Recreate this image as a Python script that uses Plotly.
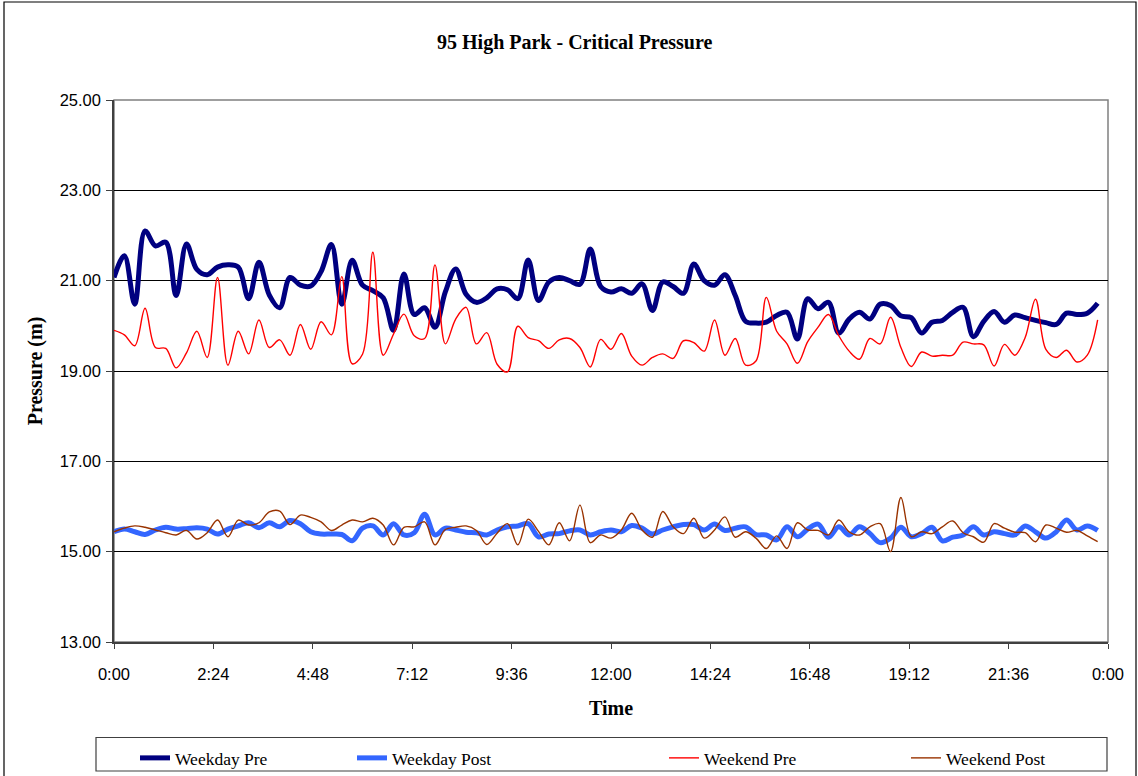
import plotly.graph_objects as go

# 15-minute samples over one day (minutes after midnight)
times = [i * 15 for i in range(96)]

weekday_pre = [21.07, 21.55, 20.48, 22.10, 21.77, 21.85, 20.67, 21.81, 21.25, 21.13,
               21.30, 21.35, 21.30, 20.60, 21.41, 20.68, 20.40, 21.07, 20.90, 20.88,
               21.20, 21.80, 20.48, 21.45, 20.90, 20.78, 20.62, 19.90, 21.15, 20.25,
               20.40, 19.97, 20.75, 21.26, 20.70, 20.52, 20.62, 20.82, 20.80, 20.60,
               21.46, 20.56, 20.97, 21.07, 21.00, 20.92, 21.70, 20.87, 20.75, 20.82,
               20.72, 20.93, 20.34, 20.97, 20.87, 20.72, 21.37, 21.00, 20.90, 21.13,
               20.67, 20.10, 20.06, 20.08, 20.23, 20.30, 19.71, 20.60, 20.38, 20.52,
               19.84, 20.15, 20.30, 20.15, 20.48, 20.45, 20.22, 20.18, 19.84, 20.08,
               20.12, 20.30, 20.41, 19.76, 20.10, 20.32, 20.08, 20.24, 20.18, 20.12,
               20.07, 20.03, 20.28, 20.25, 20.28, 20.50]

weekday_post = [15.44, 15.50, 15.44, 15.38, 15.48, 15.54, 15.50, 15.51, 15.53, 15.50,
                15.39, 15.50, 15.57, 15.64, 15.53, 15.64, 15.55, 15.69, 15.62, 15.44,
                15.39, 15.39, 15.38, 15.24, 15.52, 15.57, 15.37, 15.62, 15.37, 15.42,
                15.83, 15.37, 15.52, 15.48, 15.43, 15.42, 15.37, 15.48, 15.55, 15.57,
                15.62, 15.33, 15.39, 15.40, 15.46, 15.48, 15.37, 15.44, 15.48, 15.44,
                15.58, 15.52, 15.39, 15.48, 15.55, 15.60, 15.60, 15.48, 15.61, 15.47,
                15.52, 15.55, 15.38, 15.37, 15.26, 15.55, 15.33, 15.50, 15.61, 15.32,
                15.55, 15.37, 15.55, 15.40, 15.20, 15.30, 15.54, 15.33, 15.40, 15.54,
                15.24, 15.32, 15.37, 15.55, 15.37, 15.44, 15.40, 15.37, 15.57, 15.44,
                15.30, 15.44, 15.70, 15.48, 15.57, 15.47]

weekend_pre = [19.90, 19.80, 19.56, 20.39, 19.52, 19.50, 19.07, 19.40, 19.88, 19.30,
               21.07, 19.13, 19.88, 19.38, 20.13, 19.52, 19.69, 19.35, 20.03, 19.48,
               20.09, 19.80, 21.09, 19.16, 19.37, 21.63, 19.35, 19.82, 20.26, 19.78,
               19.72, 21.35, 19.60, 20.15, 20.41, 19.60, 19.85, 19.15, 18.98, 19.99,
               19.74, 19.67, 19.50, 19.69, 19.72, 19.52, 19.09, 19.70, 19.48, 19.83,
               19.33, 19.13, 19.30, 19.38, 19.28, 19.67, 19.63, 19.44, 20.13, 19.35,
               19.72, 19.13, 19.22, 20.63, 19.88, 19.60, 19.17, 19.65, 19.97, 20.25,
               19.78, 19.44, 19.26, 19.72, 19.60, 20.19, 19.52, 19.10, 19.42, 19.33,
               19.35, 19.35, 19.64, 19.60, 19.58, 19.11, 19.59, 19.35, 19.74, 20.59,
               19.48, 19.30, 19.46, 19.20, 19.35, 20.13]

weekend_post = [15.44, 15.52, 15.57, 15.54, 15.48, 15.42, 15.37, 15.47, 15.28, 15.42,
                15.70, 15.33, 15.70, 15.59, 15.64, 15.88, 15.90, 15.60, 15.81, 15.76,
                15.66, 15.47, 15.59, 15.70, 15.66, 15.74, 15.59, 15.15, 15.54, 15.55,
                15.66, 15.15, 15.49, 15.54, 15.57, 15.47, 15.16, 15.41, 15.62, 15.15,
                15.72, 15.45, 15.15, 15.64, 15.24, 16.03, 15.20, 15.37, 15.30, 15.48,
                15.85, 15.48, 15.32, 15.89, 15.55, 15.40, 15.74, 15.30, 15.48, 15.77,
                15.32, 15.44, 15.30, 15.07, 15.35, 15.07, 15.64, 15.48, 15.47, 15.37,
                15.70, 15.44, 15.37, 15.55, 15.62, 15.00, 16.20, 15.33, 15.44, 15.40,
                15.55, 15.68, 15.42, 15.33, 15.21, 15.62, 15.52, 15.43, 15.42, 15.22,
                15.59, 15.52, 15.43, 15.47, 15.35, 15.22]

x_tickvals = [0, 144, 288, 432, 576, 720, 864, 1008, 1152, 1296, 1440]
x_ticktext = ["0:00", "2:24", "4:48", "7:12", "9:36", "12:00", "14:24",
              "16:48", "19:12", "21:36", "0:00"]

series_names = ["Weekday Pre", "Weekday Post", "Weekend Pre", "Weekend Post"]
series_values = [weekday_pre, weekday_post, weekend_pre, weekend_post]
series_colors = ["#000080", "#3366FF", "#FF0000", "#993300"]
series_widths = [5, 5, 1.4, 1.4]
legend_ids = ["legend", "legend2", "legend3", "legend4"]

W, H = 1138, 776
L, R, T, B = 114, 30, 100, 134
PW, PH = W - L - R, H - T - B


def px(xp):
    return (xp - L) / PW


def py(yp):
    return (H - B - yp) / PH


fig = go.Figure()
for name, vals, col, wid, lg in zip(series_names, series_values, series_colors,
                                    series_widths, legend_ids):
    fig.add_trace(go.Scatter(
        x=times, y=vals, name=name, mode="lines",
        line=dict(color=col, width=wid, shape="spline", smoothing=1.0),
        legend=lg, hoverinfo="x+y+name"))

serif = "Liberation Serif, Times New Roman, serif"
sans = "Liberation Sans, Arial, sans-serif"

legend_x = [135, 352, 664, 906]
legend_common = dict(orientation="h", xanchor="left", yanchor="middle",
                     xref="container", yref="container",
                     bgcolor="rgba(0,0,0,0)", borderwidth=0,
                     font=dict(family=serif, size=17.5, color="black"),
                     itemwidth=30, tracegroupgap=0)
layout_legends = {}
for lg, xl in zip(legend_ids, legend_x):
    layout_legends[lg] = dict(legend_common, x=xl / W, y=1 - 758 / H)

fig.update_layout(
    width=W, height=H,
    margin=dict(l=L, r=R, t=T, b=B, autoexpand=False),
    paper_bgcolor="white", plot_bgcolor="white",
    title=dict(text="<b>95 High Park - Critical Pressure</b>",
               x=0.505, xanchor="center", y=1 - 42 / H, yanchor="middle",
               font=dict(family=serif, size=20, color="black")),
    showlegend=True,
    xaxis=dict(range=[0, 1440], tickmode="array", tickvals=x_tickvals,
               ticktext=x_ticktext, showgrid=False, zeroline=False,
               showline=True, linecolor="#404040", linewidth=1.5,
               ticks="outside", ticklen=5, tickcolor="#404040",
               ticklabelstandoff=11,
               tickfont=dict(family=sans, size=16.5, color="black"),
               title=dict(text="<b>Time</b>", standoff=19,
                          font=dict(family=serif, size=20, color="black"))),
    yaxis=dict(range=[13, 25], tickmode="linear", tick0=13, dtick=2,
               tickformat=".2f", showgrid=True, gridcolor="black",
               gridwidth=1, zeroline=False, showline=True,
               linecolor="#404040", linewidth=1.5, ticks="outside",
               ticklen=6, tickcolor="#404040", ticklabelstandoff=2,
               tickfont=dict(family=sans, size=16.5, color="black"),
               title=dict(text="<b>Pressure (m)</b>", standoff=12,
                          font=dict(family=serif, size=20, color="black"))),
    shapes=[
        # plot area border
        dict(type="rect", xref="paper", yref="paper", x0=0, x1=1, y0=0, y1=1,
             line=dict(color="#808080", width=1.5), layer="below"),
        # outer chart border
        dict(type="rect", xref="paper", yref="paper",
             x0=px(4), x1=px(1136), y0=py(2), y1=py(790),
             line=dict(color="black", width=1.2)),
        # legend box
        dict(type="rect", xref="paper", yref="paper",
             x0=px(96), x1=px(1107), y0=py(737.5), y1=py(771),
             line=dict(color="#404040", width=1.2)),
    ],
    **layout_legends,
)

fig.write_html("out.html")
